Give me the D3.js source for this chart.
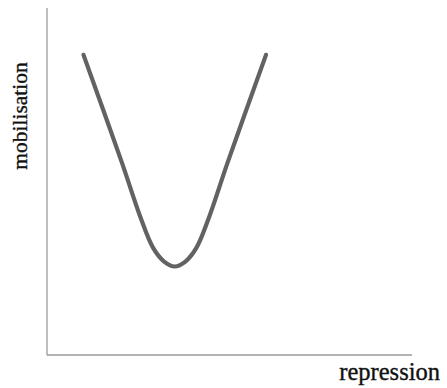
<!DOCTYPE html>
<html>
<head>
<meta charset="utf-8">
<script src="https://cdn.jsdelivr.net/npm/d3@7"></script>
<style>
  html, body { margin: 0; padding: 0; background: #fff; }
  text { font-family: "Liberation Serif", "Times New Roman", serif; fill: #111; stroke: #111; stroke-width: 0.35px; }
</style>
</head>
<body>
<div id="chart"></div>
<script>
// repression (x) vs mobilisation (y), arbitrary 0-100 units
const repression = [10, 20.5, 25.5, 29, 32, 35, 38, 41, 44.5, 49.5, 60];
const mobilisation = [86.5, 55.5, 40, 31, 27, 25.5, 27, 31, 40, 55.5, 86.5];

const axisLabels = { x: "repression", y: "mobilisation" };

const width = 447, height = 388;
const marginLeft = 47, marginRight = 35, marginTop = 8, marginBottom = 33;

const svg = d3.select("#chart").append("svg")
    .attr("width", width)
    .attr("height", height);

const x = d3.scaleLinear().domain([0, 100]).range([marginLeft, width - marginRight]);
const y = d3.scaleLinear().domain([0, 100]).range([height - marginBottom, marginTop]);

// axes: plain lines, no ticks
svg.append("line")
    .attr("x1", x(0)).attr("x2", x(0))
    .attr("y1", y(0)).attr("y2", y(100))
    .attr("stroke", "#9a9a9a")
    .attr("stroke-width", 1.3);

svg.append("line")
    .attr("x1", x(0)).attr("x2", x(100))
    .attr("y1", y(0)).attr("y2", y(0))
    .attr("stroke", "#9a9a9a")
    .attr("stroke-width", 1.3);

const points = repression.map((r, i) => [r, mobilisation[i]]);

const line = d3.line()
    .x(d => x(d[0]))
    .y(d => y(d[1]))
    .curve(d3.curveCatmullRom.alpha(0.5));

svg.append("path")
    .datum(points)
    .attr("fill", "none")
    .attr("stroke", "#626262")
    .attr("stroke-width", 4.2)
    .attr("stroke-linecap", "round")
    .attr("stroke-linejoin", "round")
    .attr("d", line);

// axis titles
svg.append("text")
    .attr("x", 440)
    .attr("y", 380)
    .attr("text-anchor", "end")
    .attr("font-size", 24.5)
    .text(axisLabels.x);

svg.append("text")
    .attr("transform", "translate(27,116) rotate(-90)")
    .attr("text-anchor", "middle")
    .attr("font-size", 21.5)
    .text(axisLabels.y);
</script>
</body>
</html>
